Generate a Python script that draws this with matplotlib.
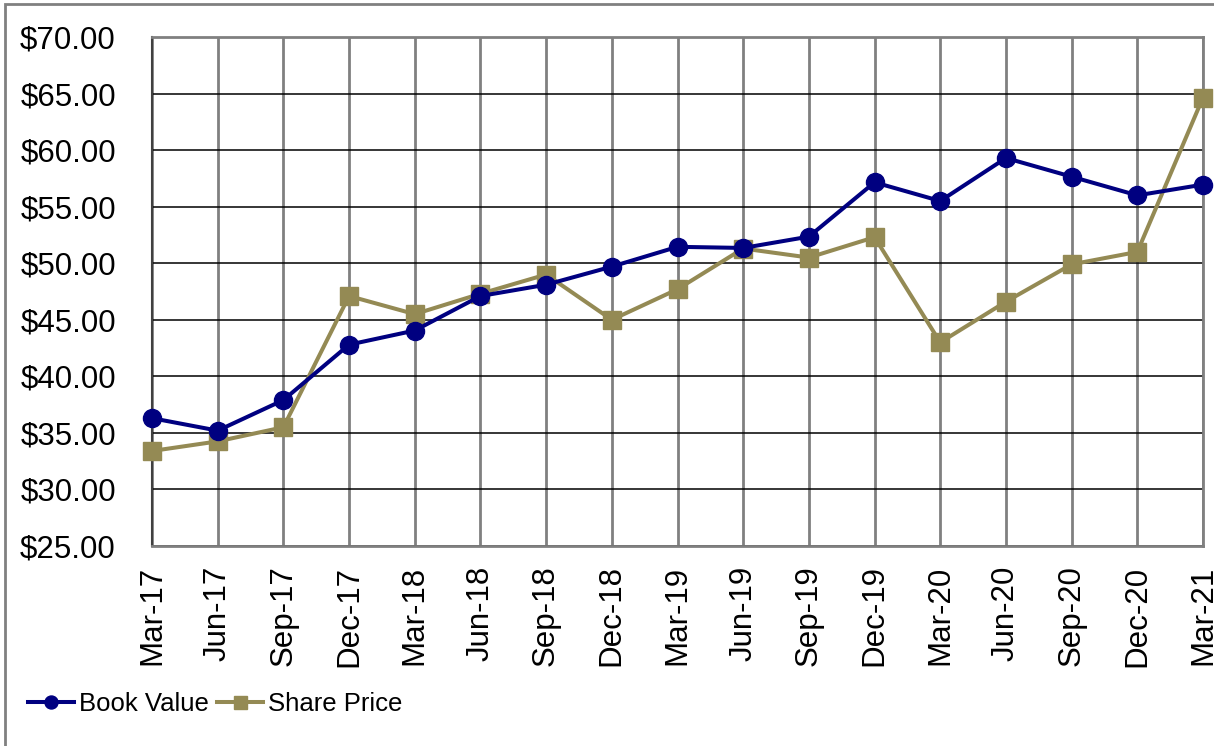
import matplotlib.pyplot as plt
from matplotlib.patches import Rectangle

# dados
trimestres = ['Mar-17', 'Jun-17', 'Sep-17', 'Dec-17', 'Mar-18', 'Jun-18', 'Sep-18',
              'Dec-18', 'Mar-19', 'Jun-19', 'Sep-19', 'Dec-19', 'Mar-20', 'Jun-20',
              'Sep-20', 'Dec-20', 'Mar-21']
book_value = [36.3, 35.2, 37.9, 42.8, 44.05, 47.1, 48.1, 49.7, 51.45, 51.35, 52.35,
              57.15, 55.5, 59.3, 57.65, 56.0, 56.95]
share_price = [33.4, 34.25, 35.5, 47.1, 45.5, 47.3, 49.0, 45.0, 47.7, 51.3, 50.5,
               52.3, 43.0, 46.6, 49.9, 51.0, 64.65]
ticks_y = [25, 30, 35, 40, 45, 50, 55, 60, 65, 70]

AZUL = '#000080'
OLIVA = '#948A54'

plt.rcParams['font.family'] = ['Liberation Sans', 'DejaVu Sans']

fig = plt.figure(figsize=(12.14, 7.46), dpi=100)
ax = fig.add_axes([152/1214, 1 - 546/746, (1203 - 152)/1214, (546 - 37)/746])

x = list(range(len(trimestres)))
ax.plot(x, book_value, color=AZUL, lw=2.9, marker='o', ms=13, label='Book Value',
        zorder=4, clip_on=False)
ax.plot(x, share_price, color=OLIVA, lw=2.9, marker='s', ms=13, label='Share Price',
        zorder=3, clip_on=False)

ax.set_xlim(0, len(trimestres) - 1)
ax.set_ylim(25, 70)
ax.set_yticks(ticks_y)
ax.set_yticklabels(['${:.2f}'.format(v) for v in ticks_y])
ax.set_xticks(x)
ax.set_xticklabels(trimestres, rotation=90, va='top', ha='center')

ax.tick_params(axis='y', length=0, pad=26, labelsize=22.5)
ax.tick_params(axis='x', length=0, pad=14, labelsize=22.5)

# grades: horizontais pretas, verticais cinza
ax.grid(axis='y', color='black', lw=1.1, zorder=0)
ax.grid(axis='x', color='#808080', lw=2, zorder=0)
ax.set_axisbelow(True)

ax.spines['left'].set_color('#404040')
ax.spines['left'].set_linewidth(1.5)
for lado in ['top', 'right', 'bottom']:
    ax.spines[lado].set_color('#808080')
    ax.spines[lado].set_linewidth(2)

# moldura externa do grafico
fig.patches.append(Rectangle((5/1214, -0.1), 1.2, 1 - 4/746 + 0.1,
                             transform=fig.transFigure, fill=False,
                             edgecolor='#808080', lw=2))

fig.legend(loc='center left', bbox_to_anchor=(28/1214, 1 - 704/746), ncol=2,
           frameon=False, fontsize=18.5, handlelength=1.8, handletextpad=0.2,
           columnspacing=0.3, borderpad=0, borderaxespad=0, markerscale=0.72)

fig.savefig('out.png', dpi=100)
